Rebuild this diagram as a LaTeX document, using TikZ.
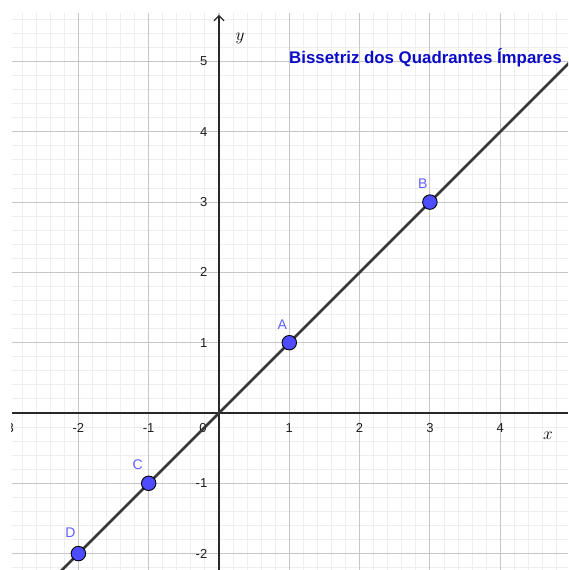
\documentclass[tikz,border=0pt]{standalone}
\usepackage{fontspec}
\setsansfont{Liberation Sans}
\usetikzlibrary{arrows.meta}
\definecolor{ptblue}{RGB}{77,77,255}
\definecolor{lblblue}{RGB}{95,95,255}
\definecolor{titleblue}{RGB}{10,10,200}
\definecolor{minorc}{RGB}{238,238,238}
\definecolor{majorc}{RGB}{198,198,198}
\definecolor{axisc}{RGB}{40,40,40}
\definecolor{linec}{RGB}{55,55,55}
\definecolor{tickc}{RGB}{30,30,30}
\begin{document}
\begin{tikzpicture}[x=70.3pt,y=70.3pt,
  gridminor/.style={draw=minorc,line width=0.9pt},
  gridmajor/.style={draw=majorc,line width=1.1pt},
  axisline/.style={draw=axisc,line width=1.6pt},
  bisectline/.style={draw=linec,line width=2.7pt},
  ptdot/.style={circle,fill=ptblue,draw=black,line width=0.9pt,minimum size=14.5pt,inner sep=0pt},
  ptlbl/.style={text=lblblue,font=\sffamily\fontsize{14}{14}\selectfont,inner sep=0pt},
  ticklbl/.style={text=tickc,font=\sffamily\fontsize{13}{13}\selectfont,inner sep=0pt},
  axlbl/.style={font=\fontsize{18}{18}\selectfont,inner sep=0pt},
  titletxt/.style={text=titleblue,font=\sffamily\bfseries\fontsize{16.85}{16.85}\selectfont,inner sep=0pt,anchor=west}]
\useasboundingbox (-219pt,-157pt) rectangle (349pt,413pt);
\coordinate (ll) at (-207pt,-157pt);
\coordinate (ur) at (349pt,400pt);
\begin{scope}
  \clip (ll) rectangle (ur);
  \draw[gridminor,step=14.06pt] (ll) grid (ur);
  \draw[gridmajor,step=70.3pt] (ll) grid (ur);
  % axes
  \coordinate (xs) at (-207pt,0);
  \coordinate (xe) at (349pt,0);
  \coordinate (ys) at (0,-157pt);
  \coordinate (ye) at (0,398pt);
  \draw[axisline] (xs) -- (xe);
  \draw[axisline,-{Straight Barb[length=5pt,width=10pt,line width=1.2pt]}] (ys) -- (ye);
  % tick labels
  \foreach \k/\t in {-3/-3,-2/-2,-1/-1,1/1,2/2,3/3,4/4} {
    \node[ticklbl] (xl\k) at ([yshift=-15pt]\k,0) {\t};
  }
  \node[ticklbl] (zero) at (-16pt,-15pt) {0};
  \foreach \k/\t in {-2/-2,-1/-1,1/1,2/2,3/3,4/4,5/5} {
    \node[ticklbl,anchor=east] (yl\k) at ([xshift=-11.5pt]0,\k) {\t};
  }
  % bisector
  \coordinate (l0) at (-2.4,-2.4);
  \coordinate (l1) at (5.1,5.1);
  \draw[bisectline] (l0) -- (l1);
  % points
  \node[ptdot] (A) at (1,1) {};
  \node[ptdot] (B) at (3,3) {};
  \node[ptdot] (C) at (-1,-1) {};
  \node[ptdot] (D) at (-2,-2) {};
  \node[ptlbl] (Al) at ([xshift=-7pt,yshift=18.5pt]A.center) {A};
  \node[ptlbl] (Bl) at ([xshift=-7pt,yshift=18.5pt]B.center) {B};
  \node[ptlbl] (Cl) at ([xshift=-11pt,yshift=19pt]C.center) {C};
  \node[ptlbl] (Dl) at ([xshift=-8pt,yshift=21pt]D.center) {D};
\end{scope}
\node[axlbl] (xlab) at (329pt,-23pt) {$x$};
\node[axlbl] (ylab) at (21pt,375pt) {$y$};
\node[titletxt] (title) at (70pt,355pt) {Bissetriz dos Quadrantes Ímpares};
\end{tikzpicture}
\end{document}
